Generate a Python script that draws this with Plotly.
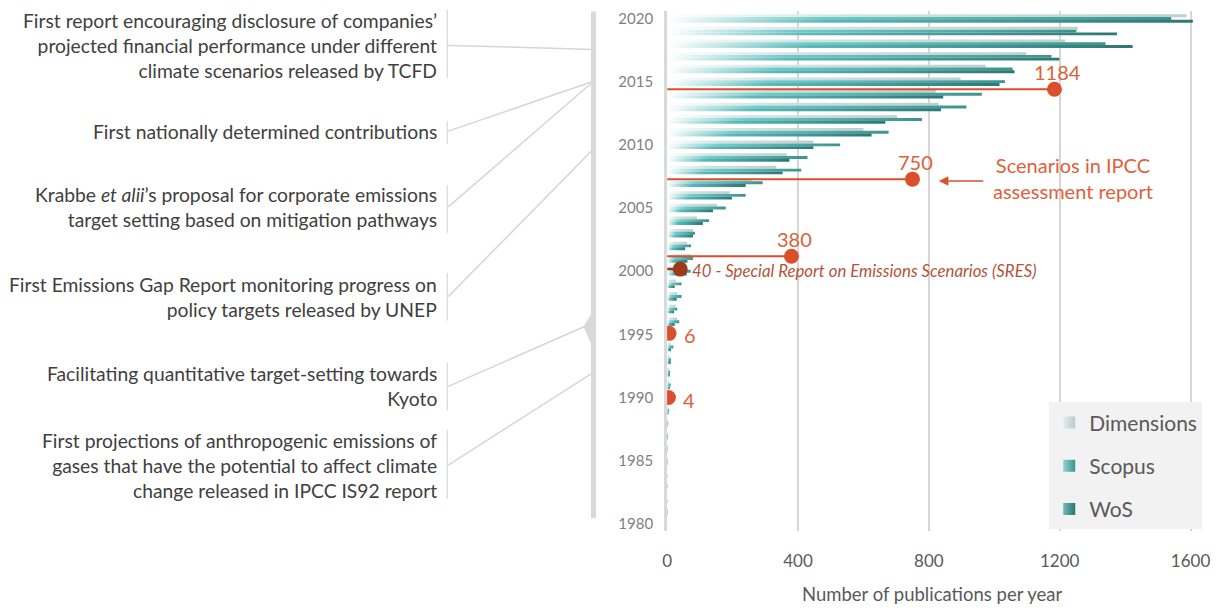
import plotly.graph_objects as go

# Figure size chosen so the page (with its default 8px body margin) fits the
# 1223x613 window; the measured page-to-picture mapping is applied below.
W, H = 1207, 597
SX, BX = 0.99, 8.6      # picture_x = SX * fig_x + BX
SY, BY = 0.993, 8.5     # picture_y = SY * fig_y + BY

# ---------------- data ----------------
years = list(range(1980, 2021))
dimensions = [0, 1, 0, 1, 0, 1, 1, 1, 2, 3, 4, 6, 6, 8, 10, 12, 31, 26, 31, 26,
              55, 73, 61, 79, 91, 152, 191, 258, 334, 365, 447, 600, 703, 830, 821,
              897, 974, 1098, 1217, 1256, 1588]
scopus = [0, 2, 0, 2, 0, 2, 2, 3, 3, 6, 8, 11, 9, 12, 19, 20, 37, 31, 44, 44,
          72, 79, 73, 85, 128, 179, 240, 292, 410, 429, 529, 677, 779, 915, 962,
          1033, 1056, 1175, 1340, 1251, 1541]
wos = [0, 1, 1, 0, 1, 1, 1, 2, 2, 4, 6, 8, 8, 11, 12, 15, 23, 21, 29, 23,
       60, 62, 55, 79, 109, 140, 198, 240, 353, 374, 447, 625, 667, 837, 844,
       1016, 1062, 1199, 1423, 1375, 1607]

series_names = ["Dimensions", "Scopus", "WoS"]

scen_years = [2014, 2007, 2001, 2000, 1995, 1990]
scen_values = [1184, 750, 380, 40, 6, 4]
scen_labels = ["1184", "750", "380", "40 - Special Report on Emissions Scenarios (SRES)", "6", "4"]

x_ticks = [0, 400, 800, 1200, 1600]
y_ticks = [1980, 1985, 1990, 1995, 2000, 2005, 2010, 2015, 2020]

events = [
    "First report encouraging disclosure of companies’<br>projected financial performance under different<br>climate scenarios released by TCFD",
    "First nationally determined contributions",
    "Krabbe <i>et alii</i>’s proposal for corporate emissions<br>target setting based on mitigation pathways",
    "First Emissions Gap Report monitoring progress on<br>policy targets released by UNEP",
    "Facilitating quantitative target-setting towards<br>Kyoto",
    "First projections of anthropogenic emissions of<br>gases that have the potential to affect climate<br>change released in IPCC IS92 report",
]

# ---------------- style ----------------
FONT = "Lato"
RED = "#d9512c"
DARKRED = "#9c3a1c"
GRID = "#d6d6d6"

scales = {
    "Dimensions": [[0, "#ffffff"], [0.35, "#d3e3e2"], [1, "#bcd0ce"]],
    "Scopus": [[0, "#ffffff"], [0.3, "#70cccc"], [1, "#3b928e"]],
    "WoS": [[0, "#ffffff"], [0.3, "#5cb9b8"], [1, "#2c7672"]],
}
legend_cols = {"Dimensions": ("#e3eded", "#b7cccb"),
               "Scopus": ("#8fd3d2", "#3b928e"),
               "WoS": ("#6fb9b7", "#2c7672")}
offsets = {"Dimensions": 0.22, "Scopus": 0.0, "WoS": -0.22}
half = 0.115

def px(x):
    return ((x - BX) / SX) / W

def py(y):
    return 1 - ((y - BY) / SY) / H

# axis geometry (in picture pixels)
x_range = [0, 1620]
unit = (1192 - 666) / 1600.0
xdom = [px(666), px(666 + x_range[1] * unit)]
y_range = [1979.4, 2020.6]
ypx = (524 - 17) / 40.0
ydom = [py(524 + 0.6 * ypx), py(17 - 0.6 * ypx)]
k = 1.0167
y2_range = [1990 + (y_range[0] - 1990) / k, 1990 + (y_range[1] - 1990) / k]

fig = go.Figure()

# bars with horizontal gradient, one polygon per bar
for name, vals in zip(series_names, [dimensions, scopus, wos]):
    for yr, v in zip(years, vals):
        if v <= 0:
            continue
        c = yr + offsets[name]
        fig.add_trace(go.Scatter(
            x=[0, v, v, 0, 0], y=[c - half, c - half, c + half, c + half, c - half],
            mode="none", fill="toself",
            fillcolor=scales[name][-1][1],
            fillgradient=dict(type="horizontal", colorscale=scales[name], start=0, stop=v),
            showlegend=False, hoverinfo="skip", xaxis="x", yaxis="y"))

# legend entries
for name in series_names:
    c0, c1 = legend_cols[name]
    fig.add_trace(go.Scatter(
        x=[None], y=[None], mode="markers", name=name, legendgroup=name,
        marker=dict(symbol="square", size=12, color=c0,
                    gradient=dict(type="horizontal", color=c1))))

# scenario lines and dots (secondary axis)
lx, ly, dx, dy = [], [], [], []
for yr, v in zip(scen_years, scen_values):
    if v == 40:
        dx += [0, v, None]
        dy += [yr, yr, None]
    else:
        lx += [0, v, None]
        ly += [yr, yr, None]
fig.add_trace(go.Scatter(x=lx, y=ly, mode="lines", line=dict(color=RED, width=2),
                         showlegend=False, hoverinfo="skip", yaxis="y2"))
fig.add_trace(go.Scatter(x=dx, y=dy, mode="lines", line=dict(color=DARKRED, width=2.5),
                         showlegend=False, hoverinfo="skip", yaxis="y2"))
fig.add_trace(go.Scatter(
    x=scen_values, y=scen_years, mode="markers",
    marker=dict(size=15, color=[DARKRED if v == 40 else RED for v in scen_values]),
    showlegend=False, hoverinfo="skip", yaxis="y2"))

annotations = []
for yr, v, lab in zip(scen_years, scen_values, scen_labels):
    if v >= 100:
        annotations.append(dict(x=v, y=yr, xref="x", yref="y2", text=lab, showarrow=False,
                                xanchor="center", yanchor="middle", yshift=17, xshift=3,
                                font=dict(family=FONT, size=20, color="#e0603a")))
    elif v == 40:
        annotations.append(dict(x=v, y=yr, xref="x", yref="y2", text="<i>" + lab + "</i>",
                                showarrow=False, xanchor="left", yanchor="middle",
                                xshift=10, yshift=-1,
                                font=dict(family=FONT, size=16.8, color="#b5533a")))
    else:
        annotations.append(dict(x=v, y=yr, xref="x", yref="y2", text=lab, showarrow=False,
                                xanchor="left", yanchor="middle", xshift=13, yshift=-2,
                                font=dict(family=FONT, size=20, color="#e0603a")))

# IPCC callout
annotations.append(dict(x=px(1074), y=py(177), xref="paper", yref="paper",
                        xanchor="center", yanchor="middle",
                        text="Scenarios in IPCC<br>assessment report", showarrow=False,
                        font=dict(family=FONT, size=20, color="#e0603a")))
annotations.append(dict(x=px(939), y=py(180), xref="paper", yref="paper", text="",
                        showarrow=True, ax=46, ay=0, arrowhead=2, arrowsize=1.2,
                        arrowwidth=1.6, arrowcolor=RED))

# left event texts
ev_y = [44, 130, 206, 296, 386, 465]
brackets = [(8, 77), (120, 143), (184, 232), (272, 320), (362, 410), (430, 499)]
targets = [(592, 48), (592, 80), (592, 80), (592, 148), (583, 326), (592, 372)]
for txt, yy in zip(events, ev_y):
    annotations.append(dict(x=px(437), y=py(yy), xref="paper", yref="paper", text=txt,
                            showarrow=False, xanchor="right", yanchor="middle", align="right",
                            font=dict(family=FONT, size=19.3, color="#404040")))

shapes = []
for (b0, b1) in brackets:
    shapes.append(dict(type="line", xref="paper", yref="paper", x0=px(445), x1=px(445),
                       y0=py(b0), y1=py(b1), line=dict(color="#d0d0d0", width=1)))
for yy, (tx, ty) in zip(ev_y, targets):
    shapes.append(dict(type="line", xref="paper", yref="paper", x0=px(446), y0=py(yy),
                       x1=px(tx), y1=py(ty), line=dict(color="#d6d6d6", width=1.5)))
# timeline
shapes.append(dict(type="line", xref="paper", yref="paper", x0=px(592), x1=px(592),
                   y0=py(10), y1=py(518), line=dict(color="#d9d9d9", width=5)))
shapes.append(dict(type="path", xref="paper", yref="paper",
                   path="M {},{} L {},{} L {},{} Z".format(px(593), py(308), px(582), py(326),
                                                          px(593), py(352)),
                   fillcolor="#d9d9d9", line=dict(width=0)))

fig.update_layout(
    width=W, height=H,
    margin=dict(l=0, r=0, t=0, b=0),
    paper_bgcolor="white", plot_bgcolor="white",
    hovermode=False,
    font=dict(family=FONT, color="#595959"),
    xaxis=dict(domain=xdom, range=x_range, tickvals=x_ticks, showgrid=True,
               gridcolor=GRID, gridwidth=1.5, zeroline=False, showline=False,
               ticks="outside", ticklen=14, tickcolor="rgba(0,0,0,0)",
               ticklabeloverflow="allow",
               tickfont=dict(family=FONT, size=17, color="#595959"),
               title=dict(text="Number of publications per year", standoff=21,
                          font=dict(family=FONT, size=18.5, color="#595959"))),
    yaxis=dict(domain=ydom, range=y_range, tickvals=y_ticks, showgrid=False,
               zeroline=False, showline=True, linecolor="#d9d9d9", linewidth=3,
               ticks="outside", ticklen=8, tickcolor="rgba(0,0,0,0)",
               ticklabeloverflow="allow",
               tickfont=dict(family=FONT, size=15, color="#7f7f7f")),
    yaxis2=dict(domain=ydom, range=y2_range, overlaying="y", visible=False),
    legend=dict(x=px(1050), y=py(402), xanchor="left", yanchor="top",
                bgcolor="#f2f2f2", borderwidth=0, traceorder="grouped",
                tracegroupgap=13, font=dict(family=FONT, size=21, color="#595959"),
                itemclick=False, itemdoubleclick=False),
    annotations=annotations,
    shapes=shapes,
)

fig.write_html("out.html")
